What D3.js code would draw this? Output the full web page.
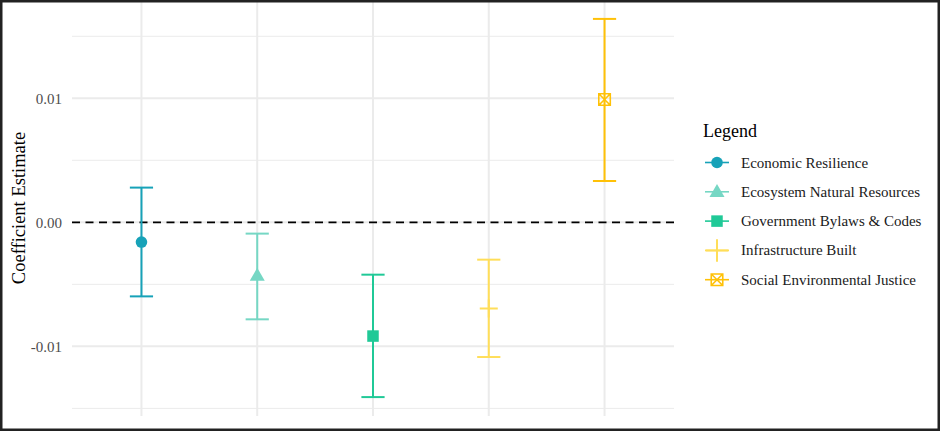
<!DOCTYPE html>
<html>
<head>
<meta charset="utf-8">
<script src="https://cdn.jsdelivr.net/npm/d3@7"></script>
<style>
  html, body { margin: 0; padding: 0; background: #fff; }
  svg { display: block; font-family: "Liberation Serif", "Times New Roman", serif; }
</style>
</head>
<body>
<svg id="chart" width="940" height="432"></svg>
<script>
const categories = ["Economic Resilience", "Ecosystem Natural Resources", "Government Bylaws & Codes", "Infrastructure Built", "Social Environmental Justice"];
const estimates = [-0.00159, -0.0043, -0.00917, -0.00694, 0.0099];
const lowerCI = [-0.00597, -0.00782, -0.01409, -0.01086, 0.00333];
const upperCI = [0.0028, -0.00091, -0.00422, -0.00301, 0.0164];
const colors = ["#17a2b8", "#76d7c4", "#20c997", "#ffde59", "#ffc107"];
const shapes = ["circle", "triangle", "square", "cross", "boxx"];
const yTicks = [-0.01, 0.00, 0.01];
const yMinorTicks = [-0.015, -0.005, 0.005, 0.015];
const yTickLabels = ["-0.01", "0.00", "0.01"];

const svg = d3.select("#chart");
const panel = { left: 72, right: 674, top: 0, bottom: 416 };

const lo = d3.min(lowerCI), hi = d3.max(upperCI);
const pad = (hi - lo) * 0.05;
const y = d3.scaleLinear().domain([lo - pad, hi + pad]).range([panel.bottom, panel.top]);
const x = d3.scalePoint().domain(categories).range([panel.left, panel.right]).padding(0.6);

const g = svg.append("g");

// minor grid
g.selectAll("line.minor").data(yMinorTicks).join("line")
  .attr("x1", panel.left).attr("x2", panel.right)
  .attr("y1", d => y(d)).attr("y2", d => y(d))
  .attr("stroke", "#ebebeb").attr("stroke-width", 1);
// major grid
g.selectAll("line.major").data(yTicks).join("line")
  .attr("x1", panel.left).attr("x2", panel.right)
  .attr("y1", d => y(d)).attr("y2", d => y(d))
  .attr("stroke", "#ebebeb").attr("stroke-width", 2);
g.selectAll("line.vgrid").data(categories).join("line")
  .attr("x1", d => x(d)).attr("x2", d => x(d))
  .attr("y1", panel.top).attr("y2", panel.bottom)
  .attr("stroke", "#ebebeb").attr("stroke-width", 2);

// y axis labels
const yAxis = d3.axisLeft(y).tickValues(yTicks).tickFormat((d, i) => yTickLabels[i]).tickSize(0).tickPadding(10);
const ax = svg.append("g").attr("transform", `translate(${panel.left},0)`).call(yAxis);
ax.select(".domain").remove();
ax.selectAll("text").attr("fill", "#4d4d4d").style("font-size", "15px").style("font-family", "Liberation Serif, serif");

// zero line
g.append("line")
  .attr("x1", panel.left).attr("x2", panel.right)
  .attr("y1", y(0)).attr("y2", y(0))
  .attr("stroke", "#000").attr("stroke-width", 1.6)
  .attr("stroke-dasharray", "8,5.5");

// y title
svg.append("text")
  .attr("transform", `translate(24.5,${(panel.top + panel.bottom) / 2}) rotate(-90)`)
  .attr("text-anchor", "middle")
  .style("font-size", "18.5px").attr("fill", "#000")
  .text("Coefficient Estimate");

function drawShape(sel, shape, color, cx, cy, s) {
  if (shape === "circle") {
    sel.append("circle").attr("cx", cx).attr("cy", cy).attr("r", 5.8 * s).attr("fill", color);
  } else if (shape === "triangle") {
    const h = 13 * s, w = 15 * s;
    sel.append("path").attr("d", `M${cx},${cy - h * 0.6}L${cx + w / 2},${cy + h * 0.4}L${cx - w / 2},${cy + h * 0.4}Z`).attr("fill", color);
  } else if (shape === "square") {
    const a = 11.5 * s;
    sel.append("rect").attr("x", cx - a / 2).attr("y", cy - a / 2).attr("width", a).attr("height", a).attr("fill", color);
  } else if (shape === "cross") {
    const a = 9 * s;
    sel.append("path").attr("d", `M${cx - a},${cy}H${cx + a}M${cx},${cy - a}V${cy + a}`).attr("stroke", color).attr("stroke-width", 2).attr("fill", "none");
  } else if (shape === "boxx") {
    const a = 11.5 * s;
    sel.append("path").attr("d", `M${cx - a / 2},${cy - a / 2}h${a}v${a}h${-a}ZM${cx - a / 2},${cy - a / 2}L${cx + a / 2},${cy + a / 2}M${cx + a / 2},${cy - a / 2}L${cx - a / 2},${cy + a / 2}`)
      .attr("stroke", color).attr("stroke-width", 1.6).attr("fill", "none");
  }
}

// error bars & points
categories.forEach((c, i) => {
  const cx = x(c);
  const eg = g.append("g");
  eg.append("line").attr("x1", cx).attr("x2", cx).attr("y1", y(lowerCI[i])).attr("y2", y(upperCI[i]))
    .attr("stroke", colors[i]).attr("stroke-width", 2);
  [lowerCI[i], upperCI[i]].forEach(v => {
    eg.append("line").attr("x1", cx - 11.6).attr("x2", cx + 11.6).attr("y1", y(v)).attr("y2", y(v))
      .attr("stroke", colors[i]).attr("stroke-width", 2);
  });
  drawShape(eg, shapes[i], colors[i], cx, y(estimates[i]), 1);
});

// legend
const lg = svg.append("g");
lg.append("text").attr("x", 703).attr("y", 137).style("font-size", "18px").attr("fill", "#000").text("Legend");
const ly0 = 162.5, ldy = 29.3;
categories.forEach((c, i) => {
  const cy = ly0 + i * ldy;
  lg.append("line").attr("x1", 705).attr("x2", 729).attr("y1", cy).attr("y2", cy)
    .attr("stroke", colors[i]).attr("stroke-width", 1.6);
  drawShape(lg, shapes[i], colors[i], 717, cy, shapes[i] === "cross" ? 1.25 : 1);
  lg.append("text").attr("x", 741).attr("y", cy + 5).style("font-size", "15px").attr("fill", "#1a1a1a").text(c);
});

// outer border
svg.append("rect").attr("x", 1.25).attr("y", 1.25).attr("width", 937.5).attr("height", 428.5)
  .attr("fill", "none").attr("stroke", "#222").attr("stroke-width", 2.5);
</script>
</body>
</html>
